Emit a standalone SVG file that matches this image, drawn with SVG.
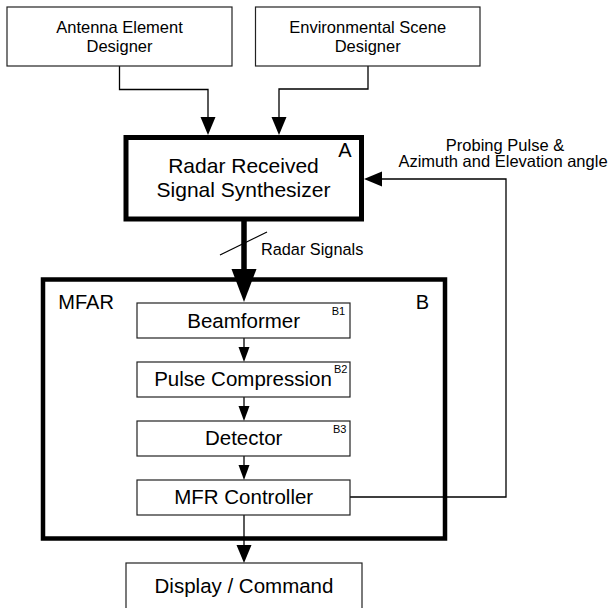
<svg xmlns="http://www.w3.org/2000/svg" width="610" height="608" viewBox="0 0 610 608">
<style>
text{font-family:"Liberation Sans",Arial,sans-serif;fill:#000}
.box{fill:#fff;stroke:#222;stroke-width:1.2}
.ln{fill:none;stroke:#000;stroke-width:1.3}
.c{text-anchor:middle}
.s{font-size:16.5px}
.m{font-size:20.5px}
.t{font-size:11px}
</style>
<defs>
<marker id="ah" markerUnits="userSpaceOnUse" markerWidth="18" markerHeight="16" refX="0" refY="7.5" orient="auto">
<path d="M0,0 L18,7.5 L0,15 Z" fill="#000"/>
</marker>
<marker id="as" markerUnits="userSpaceOnUse" markerWidth="15" markerHeight="12" refX="0" refY="5.5" orient="auto">
<path d="M0,0 L15,5.5 L0,11 Z" fill="#000"/>
</marker>
<marker id="ab" markerUnits="userSpaceOnUse" markerWidth="33" markerHeight="26" refX="0" refY="12.5" orient="auto">
<path d="M0,0 L33,12.5 L0,25 Z" fill="#000"/>
</marker>
</defs>

<g id="connectors">
<polyline class="ln" points="119.5,66 119.5,89.5 208,89.5 208,117" marker-end="url(#ah)"/>
<polyline class="ln" points="368,66 368,89 279,89 279,117" marker-end="url(#ah)"/>
<line x1="244" y1="221" x2="244" y2="269" stroke="#000" stroke-width="5.5" marker-end="url(#ab)"/>
<line class="ln" x1="220" y1="255" x2="267" y2="232"/>
<polyline class="ln" points="350,497 506,497 506,179 382,179" marker-end="url(#ah)"/>
<line class="ln" x1="244" y1="338" x2="244" y2="347" marker-end="url(#as)"/>
<line class="ln" x1="244" y1="397" x2="244" y2="406" marker-end="url(#as)"/>
<line class="ln" x1="244" y1="456" x2="244" y2="465" marker-end="url(#as)"/>
<line class="ln" x1="244" y1="515" x2="244" y2="545" marker-end="url(#ah)"/>
</g>

<g id="antenna">
<rect class="box" x="7" y="7" width="225" height="59"/>
<text class="s c" x="119.5" y="32.5">Antenna Element</text>
<text class="s c" x="119.5" y="51.5">Designer</text>
</g>

<g id="scene">
<rect class="box" x="255.5" y="7" width="224.5" height="59"/>
<text class="s c" x="367.7" y="32.5">Environmental Scene</text>
<text class="s c" x="367.7" y="51.5">Designer</text>
</g>

<g id="synth">
<rect x="126" y="137.5" width="235.5" height="81.5" fill="#fff" stroke="#000" stroke-width="5"/>
<text class="c" x="243.5" y="173.3" font-size="21">Radar Received</text>
<text class="c" x="243.5" y="197" font-size="21">Signal Synthesizer</text>
<text x="338.3" y="157" font-size="20">A</text>
</g>

<g id="radar-signals-label">
<text x="261" y="255" font-size="16.3">Radar Signals</text>
</g>

<g id="probing-label">
<text class="s c" x="505" y="150.7">Probing Pulse &amp;</text>
<text class="s c" x="503" y="167">Azimuth and Elevation angle</text>
</g>

<g id="mfar">
<rect x="43" y="279.5" width="402" height="259" fill="none" stroke="#000" stroke-width="4.5"/>
<text x="58.3" y="309" font-size="20">MFAR</text>
<text x="415.7" y="309" font-size="20">B</text>
</g>

<g id="beamformer">
<rect class="box" x="137" y="303" width="213" height="35"/>
<text class="m c" x="243.7" y="328">Beamformer</text>
<text class="t" x="331.7" y="314.5">B1</text>
</g>

<g id="pulse">
<rect class="box" x="137" y="362" width="213" height="35"/>
<text class="m c" x="243" y="386">Pulse Compression</text>
<text class="t" x="334" y="373">B2</text>
</g>

<g id="detector">
<rect class="box" x="137" y="421" width="213" height="35"/>
<text class="m c" x="243.7" y="445">Detector</text>
<text class="t" x="333" y="432.7">B3</text>
</g>

<g id="controller">
<rect class="box" x="137" y="480" width="213" height="35"/>
<text class="m c" x="243.7" y="504">MFR Controller</text>
</g>

<g id="display">
<rect class="box" x="126" y="563" width="236" height="60"/>
<text class="m c" x="244" y="592.7">Display / Command</text>
</g>
</svg>
